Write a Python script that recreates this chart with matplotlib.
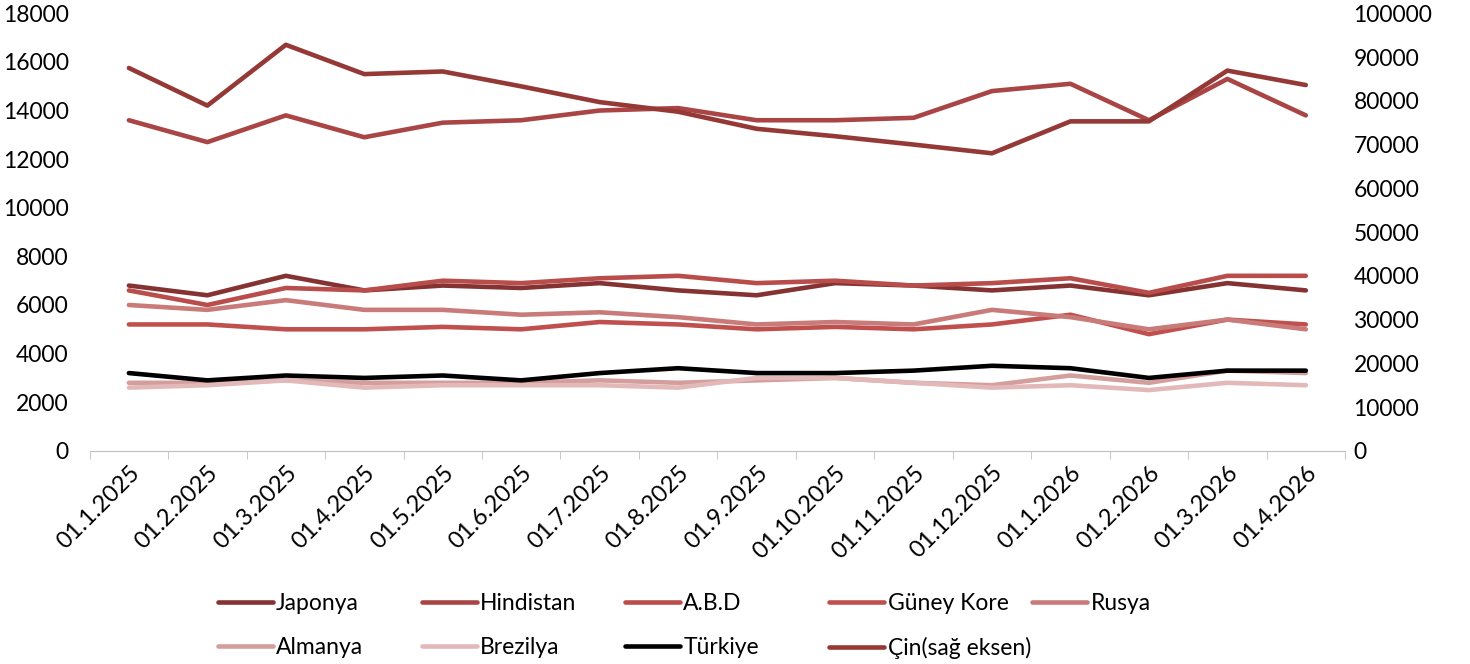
import matplotlib
matplotlib.use("Agg")
import matplotlib.pyplot as plt
from matplotlib.lines import Line2D

plt.rcParams['font.family'] = ['Lato', 'DejaVu Sans']

tarihler = ["01.1.2025", "01.2.2025", "01.3.2025", "01.4.2025", "01.5.2025", "01.6.2025",
            "01.7.2025", "01.8.2025", "01.9.2025", "01.10.2025", "01.11.2025", "01.12.2025",
            "01.1.2026", "01.2.2026", "01.3.2026", "01.4.2026"]

japonya = [6800, 6400, 7200, 6600, 6800, 6700, 6900, 6600, 6400, 6900, 6800, 6600, 6800, 6400, 6900, 6600]
hindistan = [13600, 12700, 13800, 12900, 13500, 13600, 14000, 14100, 13600, 13600, 13700, 14800, 15100, 13600, 15300, 13800]
abd = [6600, 6000, 6700, 6600, 7000, 6900, 7100, 7200, 6900, 7000, 6800, 6900, 7100, 6500, 7200, 7200]
guney_kore = [5200, 5200, 5000, 5000, 5100, 5000, 5300, 5200, 5000, 5100, 5000, 5200, 5600, 4800, 5400, 5200]
rusya = [6000, 5800, 6200, 5800, 5800, 5600, 5700, 5500, 5200, 5300, 5200, 5800, 5500, 5000, 5400, 5000]
almanya = [2800, 2800, 2900, 2800, 2800, 2800, 2900, 2800, 2900, 3000, 2800, 2700, 3100, 2800, 3300, 3200]
brezilya = [2600, 2700, 2900, 2600, 2700, 2700, 2700, 2600, 3000, 3000, 2800, 2600, 2700, 2500, 2800, 2700]
turkiye = [3200, 2900, 3100, 3000, 3100, 2900, 3200, 3400, 3200, 3200, 3300, 3500, 3400, 3000, 3300, 3300]
cin = [87500, 78900, 92800, 86100, 86700, 83300, 79700, 77500, 73600, 71900, 70000, 68000, 75300, 75300, 86900, 83600]

seriler = [
    ("Japonya", japonya, "#843332"),
    ("Hindistan", hindistan, "#a94645"),
    ("A.B.D", abd, "#b84d4b"),
    ("Güney Kore", guney_kore, "#c0504d"),
    ("Rusya", rusya, "#c97b79"),
    ("Almanya", almanya, "#d49e9d"),
    ("Brezilya", brezilya, "#e2b9b8"),
    ("Türkiye", turkiye, "#000000"),
]
cin_renk = "#953937"

fig = plt.figure(figsize=(14.7, 6.64), dpi=100)
ax = fig.add_axes([0.061, 0.321, 0.854, 0.659])
ax2 = ax.twinx()

x = list(range(len(tarihler)))
lw = 3.3
for ad, deger, renk in seriler:
    ax.plot(x, deger, color=renk, lw=lw, solid_capstyle='round', solid_joinstyle='round')
ax2.plot(x, cin, color=cin_renk, lw=lw, solid_capstyle='round', solid_joinstyle='round')

ax.set_xlim(-0.5, len(tarihler) - 0.5)
ax.set_ylim(0, 18000)
ax.set_yticks(range(0, 18001, 2000))
ax2.set_ylim(0, 100000)
ax2.set_yticks(range(0, 100001, 10000))

for a in (ax, ax2):
    for s in ("top", "left", "right"):
        a.spines[s].set_visible(False)
    a.spines["bottom"].set_color("#bfbfbf")
    a.tick_params(axis='y', length=0, labelsize=16.5, colors="black")
ax.tick_params(axis='y', pad=15)
ax2.tick_params(axis='y', pad=6)
ax2.spines["bottom"].set_visible(False)

# Excel tarzı: kategori sınırlarında tik
ax.set_xticks([i - 0.5 for i in range(len(tarihler) + 1)], minor=True)
ax.tick_params(axis='x', which='minor', length=6, color="#bfbfbf")
ax.set_xticks(x)
ax.set_xticklabels(tarihler, rotation=45, ha='right', rotation_mode='anchor', fontsize=17)
ax.tick_params(axis='x', which='major', length=0, pad=8)

# Lejant: eşit genişlikte sütunlar
handles = [Line2D([], [], color=r, lw=lw, solid_capstyle='round') for _, _, r in seriler]
handles.append(Line2D([], [], color=cin_renk, lw=lw, solid_capstyle='round'))
labels = [s[0] for s in seriler] + ["Çin(sağ eksen)"]
sutun_x = [0.148, 0.287, 0.425, 0.564, 0.702]
for i, sx in enumerate(sutun_x):
    idx = [j for j in (i, i + 5) if j < len(labels)]
    fig.legend([handles[j] for j in idx], [labels[j] for j in idx],
               loc='upper left', bbox_to_anchor=(sx, 0.107), bbox_transform=fig.transFigure,
               frameon=False, fontsize=16.5, handlelength=2.4, handletextpad=0.15,
               borderaxespad=0, borderpad=0, labelspacing=1.0)

fig.savefig("out.png", dpi=100, facecolor="white")
